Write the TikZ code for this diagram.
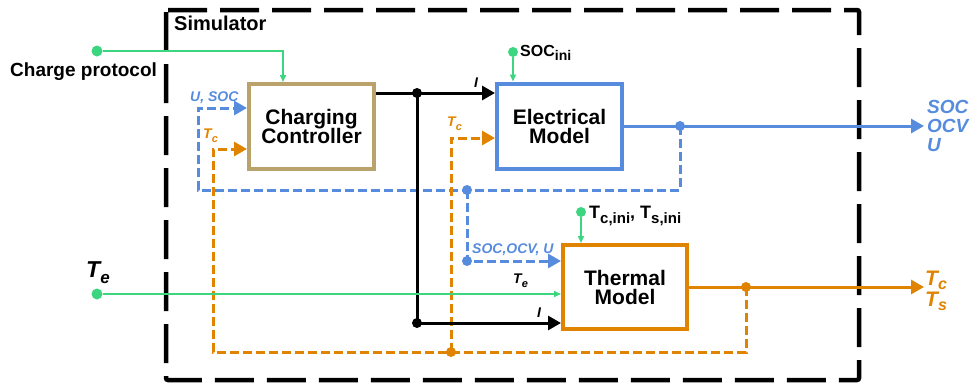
\documentclass[tikz,border=0pt]{standalone}
\usepackage{fontspec}
\setmainfont{Liberation Sans}
\usetikzlibrary{arrows.meta}
\definecolor{cblue}{RGB}{86,139,222}
\definecolor{corange}{RGB}{224,132,0}
\definecolor{ctan}{RGB}{185,163,106}
\definecolor{cgreen}{RGB}{61,214,128}
\newcommand{\sbs}[2]{\raisebox{-0.3em}{\fontsize{#1}{#1}\selectfont #2}}
\newcommand{\sbt}[2]{\raisebox{-0.2em}{\fontsize{#1}{#1}\selectfont #2}}
\newcommand{\fs}[1]{\fontsize{#1}{#1}\selectfont}
\tikzset{
  blk/.style={draw, line width=4pt, fill=white, minimum width=125pt, minimum height=85pt, align=center, font=\fs{21}\bfseries, inner sep=0pt},
  bigarrow/.style={-{Triangle[length=13pt,width=14pt]}},
  wire/.style={line width=3pt},
  dwire/.style={line width=3pt, dash pattern=on 9pt off 4pt},
  gwire/.style={cgreen, line width=1.5pt},
  garrow/.style={gwire, -{Triangle[length=7pt,width=6pt]}},
  dot/.style={circle, fill, inner sep=0pt, minimum size=10pt},
  lbl/.style={inner sep=0pt, anchor=base west},
}
\begin{document}
\begin{tikzpicture}[x=1pt,y=-1pt]
\useasboundingbox (0,0) rectangle (979,388);
% simulator border
\draw[line width=4.5pt, dash pattern=on 39pt off 13pt, rounded corners=2pt] (166,10) rectangle (859,380);
\node[lbl, font=\fs{20}\bfseries] (sim) at (174,30) {Simulator};
% blocks
\node[blk, draw=ctan] (cc) at (311.5,126.5) {Charging\\[-2pt]Controller};
\node[blk, draw=cblue] (em) at (559.5,126) {Electrical\\[-2pt]Model};
\node[blk, draw=corange, minimum width=124pt, minimum height=84pt] (tm) at (625,287) {Thermal\\[-2pt]Model};
% coordinates
\coordinate (kj1) at (417,93);
\coordinate (kj2) at (417,323);
\coordinate (ej) at (680,126);
\coordinate (b1) at (680,190);
\coordinate (b2) at (198,190);
\coordinate (b3) at (198,108);
\coordinate (bj) at (467,190);
\coordinate (bj2) at (467,261);
\coordinate (tj) at (746,287);
\coordinate (o1) at (746,352);
\coordinate (o2) at (213,352);
\coordinate (o3) at (213,149);
\coordinate (oj) at (451,352);
\coordinate (o4) at (451,138);
\coordinate (emout) at (924,126);
\coordinate (tmout) at (924,287);
\coordinate (cpk) at (283,0);
\coordinate (sock) at (513,0);
\coordinate (tck) at (581,0);
% blue dashed feedback
\draw[dwire, cblue, bigarrow] (ej) -- (b1) -- (b2) -- (b3) -- (cc.west |- b3);
\draw[dwire, cblue, bigarrow] (bj) -- (bj2) -- (tm.west |- bj2);
% orange dashed feedback
\draw[dwire, corange, bigarrow] (tj) -- (o1) -- (o2) -- (o3) -- (cc.west |- o3);
\draw[dwire, corange, bigarrow] (oj) -- (o4) -- (em.west |- o4);
% black current
\draw[wire, bigarrow] (cc.east |- kj1) -- (kj1) -- (em.west |- kj1);
\draw[wire, bigarrow] (kj1) -- (kj2) -- (tm.west |- kj2);
% outputs
\draw[wire, cblue, bigarrow] (em.east |- ej) -- (emout);
\draw[wire, corange, bigarrow] (tm.east |- tj) -- (tmout);
% dots
\node[dot] (d1) at (kj1) {};
\node[dot] (d2) at (kj2) {};
\node[dot, cblue] (d3) at (ej) {};
\node[dot, cblue] (d4) at (bj) {};
\node[dot, cblue] (d5) at (bj2) {};
\node[dot, corange] (d6) at (tj) {};
\node[dot, corange] (d7) at (oj) {};
% green inputs
\node[dot, cgreen, minimum size=11pt] (cpdot) at (97,51) {};
\node[dot, cgreen, minimum size=11pt] (tedot) at (97,294) {};
\node[dot, cgreen] (socdot) at (513,52) {};
\node[dot, cgreen] (tcdot) at (581,212) {};
\draw[garrow] (cpdot) -| (cpk |- cc.north);
\draw[garrow] (tedot) -- (tm.west |- tedot);
\draw[garrow] (socdot) -- (sock |- em.north);
\draw[garrow] (tcdot) -- (tck |- tm.north);
% labels
\node[lbl, font=\fs{19}\bfseries] (cpl) at (10,76) {Charge protocol};
\node[lbl, font=\fs{23}\bfseries\itshape] (tel) at (86,277) {T\sbs{17}{e}};
\node[lbl, font=\fs{14}\bfseries\itshape, text=cblue] (usoc) at (190,101) {U, SOC};
\node[lbl, font=\fs{14}\bfseries\itshape, text=corange] (tcl1) at (203,138) {T\sbs{11}{c}};
\node[lbl, font=\fs{14}\bfseries\itshape, text=corange] (tcl2) at (447,126) {T\sbs{11}{c}};
\node[lbl, font=\fs{14}\bfseries\itshape] (il1) at (474,87) {I};
\node[lbl, font=\fs{14}\bfseries\itshape] (il2) at (537,317) {I};
\node[lbl, font=\fs{14}\bfseries\itshape] (tel2) at (513,283) {T\sbs{11}{e}};
\node[lbl, font=\fs{16}\bfseries] (socini) at (520,56) {SOC\sbs{14}{ini}};
\node[lbl, font=\fs{18}\bfseries] (tcini) at (589,218) {T\sbs{15}{c,ini}, T\sbs{15}{s,ini}};
\node[lbl, font=\fs{14}\bfseries\itshape, text=cblue] (socu) at (472,253) {SOC,OCV, U};
\node[lbl, font=\fs{19}\bfseries\itshape, text=cblue] (o1l) at (927,113) {SOC};
\node[lbl, font=\fs{19}\bfseries\itshape, text=cblue] (o2l) at (927,132) {OCV};
\node[lbl, font=\fs{19}\bfseries\itshape, text=cblue] (o3l) at (927,151) {U};
\node[lbl, font=\fs{21}\bfseries\itshape, text=corange] (t1l) at (925,285) {T\sbt{16}{c}};
\node[lbl, font=\fs{21}\bfseries\itshape, text=corange] (t2l) at (925,306) {T\sbt{16}{s}};
\end{tikzpicture}
\end{document}
